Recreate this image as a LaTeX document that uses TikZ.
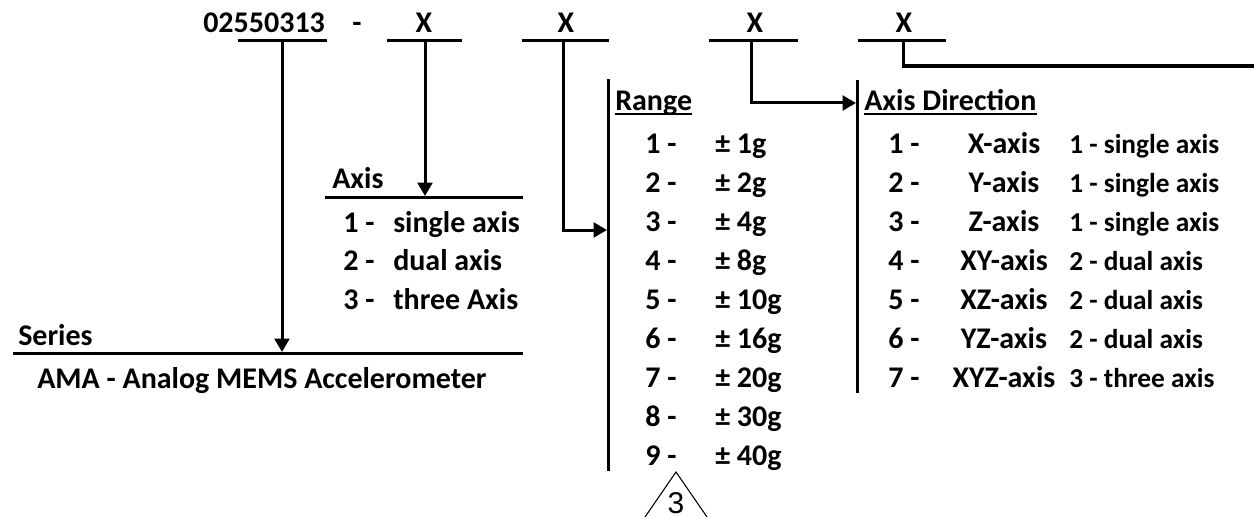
\documentclass[tikz,border=0pt]{standalone}
\usepackage{fontspec}
\setmainfont{Carlito}
\newfontfamily\arialfont{Liberation Sans}
\usetikzlibrary{arrows.meta}
\begin{document}
\begin{tikzpicture}[x=0.75pt,y=-0.75pt,
  lbl/.style={inner sep=0pt, font=\fontsize{22.5}{27}\selectfont\bfseries},
  smlbl/.style={inner sep=0pt, font=\fontsize{20.5}{24}\selectfont\bfseries},
  ln/.style={line width=2.25pt},
  thickln/.style={line width=3.5pt},
  ul/.style={line width=1.5pt},
  arr/.style={ln,-{Triangle[length=10pt,width=11pt]}},
  thin/.style={line width=0.8pt}]
\useasboundingbox (0,0) rectangle (1254,517);

% top part number
\node[lbl,anchor=base west] (pn) at (203,33) {02550313};
\node[lbl,anchor=base] (dash) at (357,33) {-};
\node[lbl,anchor=base] (xa) at (424,33) {X};
\node[lbl,anchor=base] (xb) at (566,33) {X};
\node[lbl,anchor=base] (xc) at (755,33) {X};
\node[lbl,anchor=base] (xd) at (904,33) {X};

% underlines
\coordinate (u1a) at (238,41); \coordinate (u1b) at (327,41); \coordinate (u1c) at (282,41);
\coordinate (u2a) at (387,41); \coordinate (u2b) at (462,41); \coordinate (u2c) at (425,41);
\coordinate (u3a) at (522,41); \coordinate (u3b) at (609,41); \coordinate (u3c) at (563,41);
\coordinate (u4a) at (709,41); \coordinate (u4b) at (798,41); \coordinate (u4c) at (751,41);
\coordinate (u5a) at (858,41); \coordinate (u5b) at (946,41); \coordinate (u5c) at (903,41);
\foreach \k in {1,...,5}{\draw[ln] (u\k a) -- (u\k b);}

% Series
\coordinate (sl1) at (13,353); \coordinate (sl2) at (523,353);
\coordinate (sin) at (282,352);
\draw[ln] (sl1) -- (sl2);
\node[lbl,anchor=base west] (series) at (18,345) {Series};
\node[lbl,anchor=base west] (ama) at (37,388) {AMA - Analog MEMS Accelerometer};
\draw[arr] (u1c) -- (sin);

% Axis
\coordinate (al1) at (325,197); \coordinate (al2) at (523,197);
\coordinate (ain) at (425,196);
\draw[ln] (al1) -- (al2);
\node[lbl,anchor=base west] (axis) at (332,188) {Axis};
\draw[arr] (u2c) -- (ain);
\foreach \i/\t [count=\k from 0] in {1/single axis,2/dual axis,3/three Axis}{
  \node[lbl,anchor=base west] (an\i) at (343,{232+38.5*\k}) {\i\ -};
  \node[lbl,anchor=base west] (av\i) at (393,{232+38.5*\k}) {\t};
}

% Range
\coordinate (rl1) at (608,79); \coordinate (rl2) at (608,471);
\coordinate (rin) at (607,230);
\draw[ln] (rl1) -- (rl2);
\draw[arr] (u3c) |- (rin);
\node[lbl,anchor=base west] (range) at (615,111) {Range};
\draw[ul] ([yshift=-2.6pt]range.base west) -- ([yshift=-2.6pt]range.base east);
\foreach \i/\t [count=\k from 0] in {1/1g,2/2g,3/4g,4/8g,5/10g,6/16g,7/20g,8/30g,9/40g}{
  \node[lbl,anchor=base west] (rn\i) at (645,{153+39*\k}) {\i\ -};
  \node[lbl,anchor=base west] (rv\i) at (715,{153+39*\k}) {± \t};
}

% Axis Direction
\coordinate (dl1) at (857,80); \coordinate (dl2) at (857,393);
\coordinate (din) at (856,103);
\draw[ln] (dl1) -- (dl2);
\draw[arr] (u4c) |- (din);
\node[lbl,anchor=base west] (adir) at (864,111) {Axis Direction};
\draw[ul] ([yshift=-2.6pt]adir.base west) -- ([yshift=-2.6pt]adir.base east);
\foreach \i/\n/\t [count=\k from 0] in {1/X-axis/1 - single axis,2/Y-axis/1 - single axis,3/Z-axis/1 - single axis,4/XY-axis/2 - dual axis,5/XZ-axis/2 - dual axis,6/YZ-axis/2 - dual axis,7/XYZ-axis/3 - three axis}{
  \node[lbl,anchor=base west] (dn\i) at (888,{153+39*\k}) {\i\ -};
  \node[lbl,anchor=base] (dv\i) at (1004,{153+39*\k}) {\n};
  \node[smlbl,anchor=base west] (dt\i) at (1069,{153+39*\k}) {\t};
}

% last field
\coordinate (xdl) at (903,66); \coordinate (xdl0) at (901.5,66); \coordinate (xdr) at (1254,66);
\draw[ln] (u5c) -- (xdl);
\draw[thickln] (xdl0) -- (xdr);

% revision triangle
\coordinate (tapex) at (676,472); \coordinate (tl) at (645,517); \coordinate (tr) at (707,517);
\draw[thin] (tl) -- (tapex) -- (tr);
\node[inner sep=0pt,anchor=base,font=\arialfont\fontsize{22.5}{25}\selectfont] (rev) at (676,513) {3};
\end{tikzpicture}
\end{document}
